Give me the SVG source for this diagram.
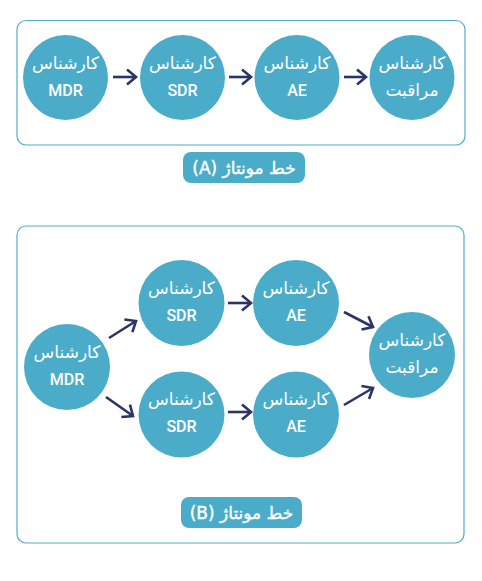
<svg xmlns="http://www.w3.org/2000/svg" width="482" height="581" viewBox="0 0 482 581">
<style>
.frame{fill:#fff;stroke:#4eaecb;stroke-width:1.2}
.c{fill:#4bacc9}
.t{fill:#fff;font-family:Roboto,sans-serif;font-weight:500;font-size:16px;text-anchor:middle}
.f{fill:#fff;font-family:"DejaVu Sans",sans-serif;font-weight:normal;font-size:17px;text-anchor:middle;direction:rtl}
.lab{fill:#4bacc9}
.lt{fill:#fff;font-family:"DejaVu Sans",sans-serif;font-size:17px;text-anchor:middle;direction:rtl;unicode-bidi:embed;stroke:#fff;stroke-width:0.4}
.a{stroke:#2b3468;stroke-width:2.6;fill:none;marker-end:url(#ah)}
</style>
<defs>
<marker id="ah" markerUnits="userSpaceOnUse" markerWidth="24" markerHeight="24" viewBox="-12 -12 24 24" refX="0" refY="0" orient="auto">
<path d="M-9,-7.5 L0,0 L-9,7.5" fill="none" stroke="#2b3468" stroke-width="2.6" stroke-linejoin="miter"/>
</marker>
</defs>
<rect class="frame" x="17" y="20.5" width="448" height="124.5" rx="9"/>
<rect class="frame" x="17" y="226" width="447" height="317" rx="9"/>
<g id="connectors">
<line class="a" x1="113" y1="77" x2="136" y2="77"/>
<line class="a" x1="229" y1="77" x2="251" y2="77"/>
<line class="a" x1="344" y1="77" x2="366" y2="77"/>
<line class="a" x1="109" y1="338" x2="136" y2="321"/>
<line class="a" x1="106" y1="397" x2="133" y2="416"/>
<line class="a" x1="228" y1="303" x2="251" y2="303"/>
<line class="a" x1="228" y1="412" x2="251" y2="412"/>
<line class="a" x1="344" y1="312" x2="373" y2="327"/>
<line class="a" x1="344" y1="405" x2="373" y2="388"/>
</g>
<g id="a-mdr"><circle class="c" cx="65.5" cy="77.5" r="42.5"/><text class="f" x="65.5" y="69">کارشناس</text><text class="t" x="65.5" y="96">MDR</text></g>
<g id="a-sdr"><circle class="c" cx="182.5" cy="77.5" r="42.5"/><text class="f" x="182.5" y="69">کارشناس</text><text class="t" x="182.5" y="96">SDR</text></g>
<g id="a-ae"><circle class="c" cx="297" cy="77.5" r="42.5"/><text class="f" x="297" y="69">کارشناس</text><text class="t" x="297" y="96">AE</text></g>
<g id="a-qc"><circle class="c" cx="412" cy="77.5" r="42.5"/><text class="f" x="412" y="69">کارشناس</text><text class="f" x="412" y="96">مراقبت</text></g>
<g id="label-a"><rect class="lab" x="183" y="152" width="122" height="31" rx="8"/><text class="lt" x="244" y="173.5">خط مونتاژ (A)</text></g>
<g id="b-mdr"><circle class="c" cx="67" cy="367" r="43"/><text class="f" x="67" y="358">کارشناس</text><text class="t" x="67" y="385">MDR</text></g>
<g id="b-sdr1"><circle class="c" cx="181.5" cy="303" r="43"/><text class="f" x="181.5" y="294">کارشناس</text><text class="t" x="181.5" y="321">SDR</text></g>
<g id="b-ae1"><circle class="c" cx="296" cy="303" r="43"/><text class="f" x="296" y="294">کارشناس</text><text class="t" x="296" y="321">AE</text></g>
<g id="b-sdr2"><circle class="c" cx="181.5" cy="414.5" r="43"/><text class="f" x="181.5" y="405">کارشناس</text><text class="t" x="181.5" y="432">SDR</text></g>
<g id="b-ae2"><circle class="c" cx="296" cy="414.5" r="43"/><text class="f" x="296" y="405">کارشناس</text><text class="t" x="296" y="432">AE</text></g>
<g id="b-qc"><circle class="c" cx="412" cy="355" r="43"/><text class="f" x="412" y="346">کارشناس</text><text class="f" x="412" y="373">مراقبت</text></g>
<g id="label-b"><rect class="lab" x="181" y="497" width="121" height="31" rx="8"/><text class="lt" x="241.5" y="518.5">خط مونتاژ (B)</text></g>
</svg>
